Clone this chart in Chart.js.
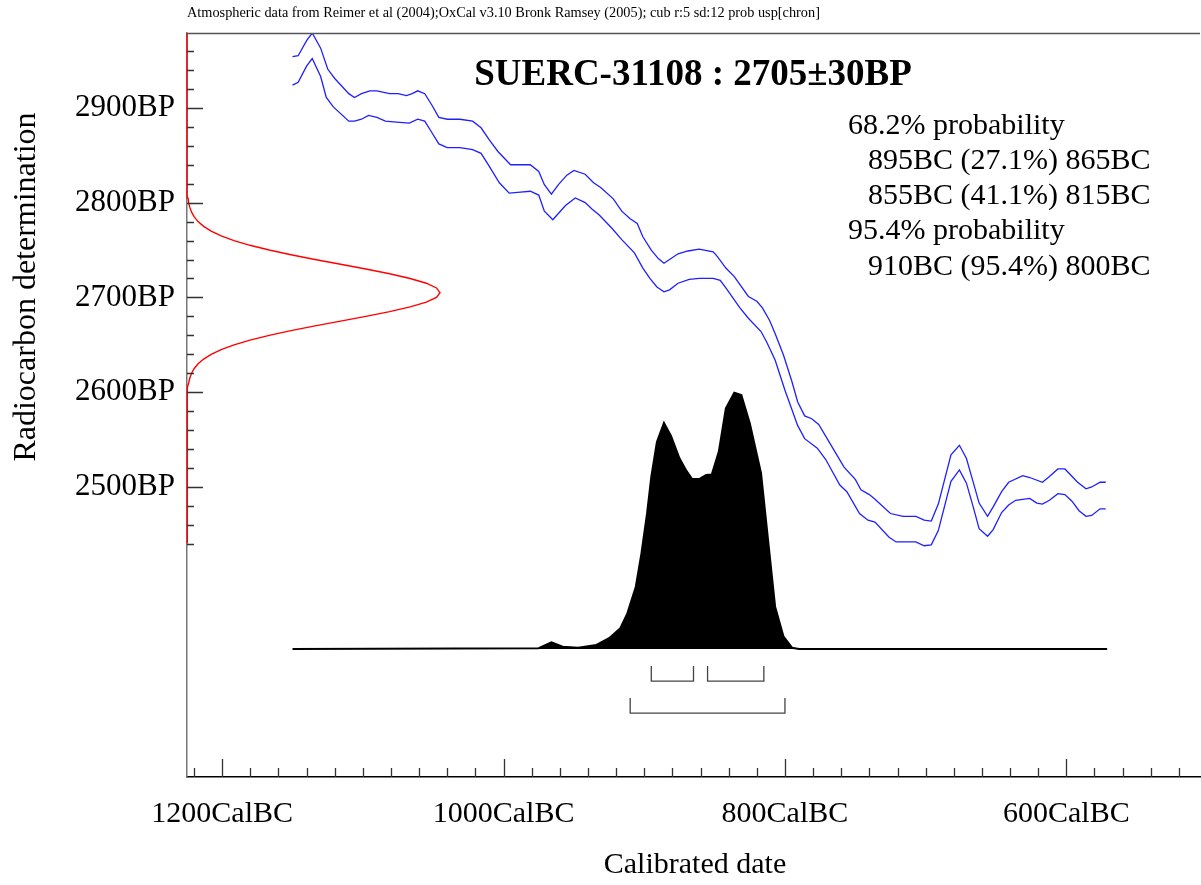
<!DOCTYPE html>
<html>
<head>
<meta charset="utf-8">
<script src="https://cdn.jsdelivr.net/npm/chart.js@4.4.0/dist/chart.umd.min.js"></script>
<style>
  html, body { margin: 0; padding: 0; background: #fff; }
  #wrap { width: 1201px; height: 885px; }
</style>
</head>
<body>
<div id="wrap"><canvas id="chart" width="1201" height="885"></canvas></div>
<script>
// calibration curve, +/- 1 sigma  [cal BC, BP]
const curveUpper = [[1150,2954],[1146,2955],[1140,2971],[1136,2979],[1130,2963],[1125,2941],[1120,2931],[1110,2915],[1106,2911],[1101,2915],[1095,2918],[1090,2918],[1081,2915],[1075,2915],[1069,2913],[1065,2915],[1061,2918],[1056,2915],[1051,2903],[1046,2890],[1040,2888],[1031,2888],[1022,2886],[1016,2879],[1010,2866],[1004,2854],[995,2840],[981,2840],[975,2833],[971,2819],[966,2809],[961,2819],[955,2829],[950,2834],[942,2830],[936,2821],[931,2816],[922,2804],[916,2791],[910,2783],[905,2778],[901,2764],[895,2750],[890,2741],[886,2736],[882,2740],[876,2746],[869,2749],[861,2751],[851,2748],[848,2743],[842,2731],[836,2722],[826,2701],[820,2696],[816,2689],[811,2676],[807,2662],[801,2639],[795,2611],[791,2590],[786,2575],[781,2572],[776,2566],[768,2546],[758,2521],[750,2508],[746,2497],[740,2492],[736,2487],[725,2472],[716,2469],[707,2469],[701,2465],[696,2464],[691,2482],[682,2534],[676,2544],[671,2530],[666,2504],[662,2483],[656,2469],[652,2479],[646,2495],[641,2505],[631,2512],[626,2510],[617,2505],[612,2511],[606,2519],[601,2519],[592,2505],[586,2498],[582,2500],[576,2505],[572,2505]];
const curveLower = [[1150,2924],[1146,2927],[1140,2944],[1136,2952],[1130,2933],[1126,2911],[1121,2901],[1110,2886],[1106,2886],[1101,2888],[1096,2892],[1090,2890],[1084,2886],[1076,2885],[1067,2884],[1061,2888],[1056,2886],[1051,2874],[1046,2862],[1040,2858],[1031,2858],[1022,2856],[1016,2852],[1010,2838],[1003,2821],[996,2810],[988,2811],[981,2812],[975,2808],[971,2791],[965,2782],[956,2797],[949,2805],[942,2800],[937,2793],[932,2787],[923,2773],[916,2761],[907,2747],[901,2731],[896,2720],[891,2711],[886,2706],[882,2708],[876,2715],[868,2719],[861,2720],[851,2720],[846,2718],[842,2710],[832,2689],[826,2678],[817,2664],[813,2653],[807,2634],[800,2602],[791,2565],[786,2551],[777,2541],[771,2529],[761,2502],[756,2495],[747,2472],[741,2465],[736,2463],[726,2447],[721,2442],[707,2442],[701,2438],[696,2439],[691,2454],[682,2506],[676,2518],[671,2504],[666,2478],[662,2456],[656,2448],[652,2455],[646,2473],[641,2481],[636,2486],[626,2488],[621,2483],[617,2482],[612,2486],[606,2493],[601,2492],[596,2485],[591,2475],[586,2469],[582,2470],[576,2477],[572,2477]];

// calibrated date probability, peak = 1  [cal BC, p]
const calProb = [[1150,0],[975,0.003],[966,0.026],[958,0.009],[947,0.005],[934,0.016],[925,0.042],[917,0.081],[912,0.139],[906,0.243],[902,0.373],[898,0.529],[895,0.672],[891,0.808],[886,0.882],[881,0.831],[875,0.744],[870,0.695],[866,0.663],[861,0.663],[856,0.679],[852,0.681],[847,0.770],[842,0.939],[836,1.0],[831,0.991],[825,0.881],[817,0.686],[812,0.425],[807,0.165],[801,0.048],[795,0.005],[790,0],[571,0]];

// radiocarbon determination 2705±30BP  [BP, p]
const dateProb = [[2441,0],[2575,0.00007],[2585,0.0003],[2595,0.0012],[2605,0.0039],[2610,0.0067],[2615,0.0111],[2620,0.0181],[2625,0.0286],[2630,0.0439],[2635,0.0657],[2640,0.0956],[2645,0.135],[2650,0.186],[2655,0.249],[2660,0.325],[2665,0.411],[2670,0.506],[2675,0.607],[2680,0.707],[2685,0.801],[2690,0.882],[2695,0.946],[2700,0.986],[2705,1],[2710,0.986],[2715,0.946],[2720,0.882],[2725,0.801],[2730,0.707],[2735,0.607],[2740,0.506],[2745,0.411],[2750,0.325],[2755,0.249],[2760,0.186],[2765,0.135],[2770,0.0956],[2775,0.0657],[2780,0.0439],[2785,0.0286],[2790,0.0181],[2795,0.0111],[2800,0.0067],[2805,0.0039],[2815,0.0012],[2825,0.0003],[2835,0.00007],[2979,0]];

const range68 = [[895, 865], [855, 815]];
const range95 = [[910, 800]];

const xTickLabels = [1200, 1000, 800, 600];
const yTickLabels = [2500, 2600, 2700, 2800, 2900];

const headerText = 'Atmospheric data from Reimer et al (2004);OxCal v3.10 Bronk Ramsey (2005); cub r:5 sd:12 prob usp[chron]';
const titleText = 'SUERC-31108 : 2705\u00b130BP';
const probLines = ['68.2% probability', '895BC (27.1%) 865BC', '855BC (41.1%) 815BC', '95.4% probability', '910BC (95.4%) 800BC'];

const SERIF = "'Liberation Serif', 'Times New Roman', serif";
const pts = arr => arr.map(([x, y]) => ({ x, y }));

function bracket(r, top, bottom) {
  return [{ x: r[0], y: top }, { x: r[0], y: bottom }, { x: r[1], y: bottom }, { x: r[1], y: top }];
}

const bracketSets = [
  ...range68.map(r => bracket(r, -0.066, -0.125)),
  ...range95.map(r => bracket(r, -0.191, -0.250))
].map(d => ({
  data: d, xAxisID: 'x', yAxisID: 'y2',
  borderColor: '#444', borderWidth: 1.3, showLine: true, fill: false, pointRadius: 0
}));

const decor = {
  id: 'decor',
  afterDraw(chart) {
    const { ctx, chartArea: a } = chart;
    const xs = chart.scales.x, ys = chart.scales.y;
    ctx.save();
    // frame top
    ctx.strokeStyle = '#555';
    ctx.lineWidth = 1.3;
    ctx.beginPath();
    ctx.moveTo(a.left, a.top + 0.5);
    ctx.lineTo(a.right, a.top + 0.5);
    ctx.stroke();

    // tick marks, inside the plot
    ctx.strokeStyle = '#333';
    ctx.lineWidth = 1.3;
    ctx.beginPath();
    for (let v = 1220; v >= 520; v -= 20) {
      const px = Math.round(xs.getPixelForValue(v)) + 0.5;
      const len = v % 200 === 0 ? 18 : 9;
      ctx.moveTo(px, a.bottom);
      ctx.lineTo(px, a.bottom - len);
    }
    for (let v = 2440; v <= 2960; v += 20) {
      const py = Math.round(ys.getPixelForValue(v)) + 0.5;
      const len = v % 100 === 0 ? 16 : 7;
      ctx.moveTo(a.left, py);
      ctx.lineTo(a.left + len, py);
    }
    ctx.stroke();

    ctx.fillStyle = '#000';
    ctx.textBaseline = 'middle';
    ctx.font = '14.3px ' + SERIF;
    ctx.textAlign = 'left';
    ctx.fillText(headerText, 187, 13);

    ctx.font = 'bold 37px ' + SERIF;
    ctx.textAlign = 'center';
    ctx.fillText(titleText, 693, 75);

    ctx.font = '30px ' + SERIF;
    ctx.textAlign = 'left';
    probLines.forEach((t, i) => {
      const indent = t.indexOf('probability') >= 0 ? 0 : 20;
      ctx.fillText(t, 848 + indent, 126 + i * 35.2);
    });

    ctx.textAlign = 'center';
    ctx.fillText('Calibrated date', 695, 865);
    ctx.font = '32px ' + SERIF;
    ctx.translate(27, 287);
    ctx.rotate(-Math.PI / 2);
    ctx.fillText('Radiocarbon determination', 0, 0);
    ctx.restore();
  }
};

new Chart(document.getElementById('chart'), {
  type: 'scatter',
  data: {
    datasets: [
      {
        data: pts(calProb), xAxisID: 'x', yAxisID: 'y2', showLine: true,
        borderColor: '#000', borderWidth: 2, backgroundColor: '#000', fill: 'origin', pointRadius: 0
      },
      {
        data: pts(curveUpper), xAxisID: 'x', yAxisID: 'y', showLine: true,
        borderColor: '#1f1fff', borderWidth: 1.3, fill: false, pointRadius: 0
      },
      {
        data: pts(curveLower), xAxisID: 'x', yAxisID: 'y', showLine: true,
        borderColor: '#1f1fff', borderWidth: 1.3, fill: false, pointRadius: 0
      },
      {
        data: dateProb.map(([bp, p]) => ({ x: p, y: bp })), xAxisID: 'x2', yAxisID: 'y', showLine: true,
        borderColor: '#ff0000', borderWidth: 1.4, fill: false, pointRadius: 0, clip: false
      },
      ...bracketSets
    ]
  },
  options: {
    responsive: false,
    animation: false,
    layout: { padding: { top: 33, right: 1, left: 0, bottom: 0 } },
    plugins: { legend: { display: false }, tooltip: { enabled: false }, title: { display: false } },
    scales: {
      x: {
        type: 'linear', reverse: true, min: 505, max: 1225,
        afterBuildTicks: s => { s.ticks = xTickLabels.map(v => ({ value: v })); },
        afterFit: s => { s.height = 108; },
        ticks: {
          callback: v => v + 'CalBC', color: '#000', padding: 19,
          font: { family: SERIF, size: 30 }, maxRotation: 0, autoSkip: false
        },
        grid: { display: false, drawTicks: false },
        border: { display: true, color: '#000', width: 1.5 }
      },
      y: {
        type: 'linear', min: 2194, max: 2979,
        afterBuildTicks: s => { s.ticks = yTickLabels.map(v => ({ value: v })); },
        afterFit: s => { s.width = 187; },
        ticks: {
          callback: v => v + 'BP', color: '#000', padding: 12,
          font: { family: SERIF, size: 31 }
        },
        grid: { display: false, drawTicks: false },
        border: { display: true, color: '#777', width: 1.5 }
      },
      x2: { type: 'linear', display: false, min: 0, max: 4.004 },
      y2: { type: 'linear', display: false, min: -0.4994, max: 2.4034 }
    }
  },
  plugins: [decor]
});
</script>
</body>
</html>
